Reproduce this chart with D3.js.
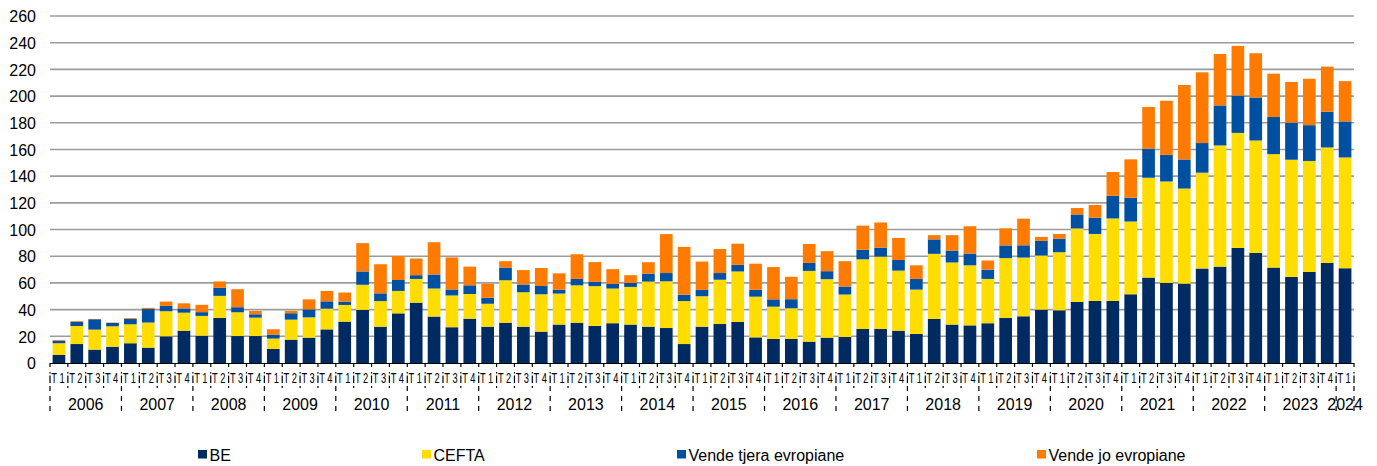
<!DOCTYPE html>
<html><head><meta charset="utf-8">
<script src="https://cdn.jsdelivr.net/npm/d3@7"></script>
<style>body{margin:0;background:#fff;}svg{display:block;font-family:"Liberation Sans",Arial,sans-serif;}</style>
</head><body>
<svg id="c" width="1377" height="466"></svg>
<script>
const years = ["2006","2007","2008","2009","2010","2011","2012","2013","2014","2015","2016","2017","2018","2019","2020","2021","2022","2023","2024"];
const quarterLabels = ["T 1","T 2","T 3","T 4"];
const seriesNames = ["BE","CEFTA","Vende tjera evropiane","Vende jo evropiane"];
const yTicks = [0,20,40,60,80,100,120,140,160,180,200,220,240,260];
// values per quarter, 2006 T1 .. 2024 T1
const BE = [6,14.2,10,12.2, 14.8,11.5,20,24.2, 20.5,33.8,20.2,20.2, 10.5,17.5,19,25.2, 31,39.8,27.2,37.2, 45.2,34.8,26.8,33.2,
  27.2,30.2,27.2,23.5, 28.8,30.2,27.8,29.8, 28.8,27.2,26.2,14.2, 27.2,29.2,30.8,19.2, 18,18,16,19,
  19.5,25.5,25.5,24.2, 21.8,33,28.8,28.2, 29.8,33.8,35,40, 39.5,45.8,46.5,46.5, 51.5,64,60,59.5,
  70.8,72.2,86.2,82.5, 71.5,64.5,68.2,75, 71];
const CEFTA = [8.8,13.5,15,15.3, 14.2,18.8,18.8,13.5, 14.8,16.5,17.8,13.8, 7.8,15,15.2,15.5, 12.5,18.8,19.2,16.8, 17.8,21,23.8,18.5,
  17.2,31.8,25.8,28, 23.2,28,29.8,26, 28.2,33.8,35,32.2, 22.8,33.2,37.8,30.5, 24.2,23,53,43.8,
  31.8,52.2,54.2,45, 33.2,48.8,46.5,45, 33.2,44.8,44,40.5, 43.5,55,50.2,61.8, 54.5,74.8,76,71.2,
  71.8,90.8,86.2,84.2, 85,87.8,83.2,86.5, 83];
const EUR = [2,3.2,7.8,2.5, 4.2,10.2,4,3.2, 2.8,6,3.8,2.5, 3,4.8,6,5.5, 2.5,10,5.8,8.2, 2.8,10.5,4.5,6.5,
  4.5,9.5,5.8,6.2, 3,4.8,3.2,3.5, 3,6,6.2,4.8, 4.8,5,5,5.2, 5.5,6.8,6,6,
  6,7.2,6.8,8, 8,10.8,9,8.8, 7,9.5,9.2,11, 10.2,10.5,12.2,17, 17.8,21.8,20,21.8,
  22.2,30,28,32.2, 27.8,27.8,26.8,26.8, 27];
const NONEUR = [0.5,0.5,0.2,0.3, 0.5,0.8,3.2,3.8, 5.5,4.8,13.5,2.5, 4,1.8,7.5,7.8, 6.8,21.2,21.8,18, 12.5,24.2,24,14,
  10.5,4.8,10.8,13.5, 12.2,18.5,14.8,11, 5.8,8.5,29.2,35.8, 21.2,18,15.8,19.5, 24.2,16.8,14.2,15,
  19,18,18.8,16.5, 10.2,3.2,11.5,20.5, 6.8,12.8,20,3, 3.5,4.8,9.5,17.8, 28.8,31.2,40.5,55.8,
  53,38.5,37.2,33.2, 32.5,30.5,34.8,33.8, 30.2];
const colors = ["#002A62","#FFDD00","#0050A2","#FF7B00"];

const categories = [];
years.forEach((y, yi) => quarterLabels.forEach((q, qi) => {
  if (yi < years.length - 1 || qi === 0) categories.push({year: y, q: q, key: y + q});
}));
const rows = categories.map((c, i) => ({key: c.key, BE: BE[i], CEFTA: CEFTA[i], EUR: EUR[i], NONEUR: NONEUR[i]}));
const keys = ["BE","CEFTA","EUR","NONEUR"];

const svg = d3.select("#c");
const L = 50, R = 1354, T = 16, B = 363;
const x = d3.scaleBand().domain(categories.map(c => c.key)).range([L, R]).paddingInner(0.29).paddingOuter(0.145);
const y = d3.scaleLinear().domain([0, 260]).range([B, T]);

// gridlines
svg.append("g").selectAll("line").data(yTicks.slice(1)).join("line")
  .attr("x1", L).attr("x2", R).attr("y1", d => y(d)).attr("y2", d => y(d))
  .attr("stroke", "#9c9c9c").attr("stroke-width", 1.6);

// y axis labels
const yAxis = d3.axisLeft(y).tickValues(yTicks).tickSize(0).tickPadding(0);
const ya = svg.append("g").attr("transform", `translate(${L - 14},0)`).call(yAxis);
ya.select(".domain").remove();
ya.selectAll("text").attr("font-size", 16).attr("fill", "#000").attr("font-family", "Liberation Sans, Arial, sans-serif").attr("dy", "0.36em");

// bars
const stack = d3.stack().keys(keys)(rows);
svg.append("g").selectAll("g").data(stack).join("g").attr("fill", (d, i) => colors[i])
  .selectAll("rect").data(d => d).join("rect")
  .attr("x", d => x(d.data.key)).attr("width", x.bandwidth())
  .attr("y", d => y(d[1])).attr("height", d => Math.max(0, y(d[0]) - y(d[1])));

// x axis
const step = x.step();
const boundaryX = i => L + (x.paddingOuter() - x.paddingInner() / 2) * step + i * step;
const ax = svg.append("g");
ax.append("line").attr("x1", L).attr("x2", R).attr("y1", B + 0.5).attr("y2", B + 0.5).attr("stroke", "#000").attr("stroke-width", 1.2);
d3.range(categories.length + 1).forEach(i => {
  const bx = i === 0 ? L : (i === categories.length ? R : boundaryX(i));
  const isYear = i % 4 === 0 || i === categories.length;
  ax.append("line").attr("x1", bx).attr("x2", bx).attr("y1", B).attr("y2", isYear ? 414 : 388)
    .attr("stroke", "#000").attr("stroke-width", 1.2)
    .attr("stroke-dasharray", isYear ? "4,5,1.5,2,7.5,3,5,5,5,5,5,5" : "4,5,1.5,2,7.5,3,2,20");
});
// quarter labels (horizontally condensed, as in the reference)
const xAxis = d3.axisBottom(x).tickSize(0).tickPadding(0).tickFormat(k => categories.find(c => c.key === k).q);
const xa = svg.append("g").attr("transform", `translate(0,383)`).call(xAxis);
xa.select(".domain").remove();
xa.selectAll("text").attr("font-size", 15).attr("fill", "#000").attr("font-family", "Liberation Sans, Arial, sans-serif")
  .attr("dy", 0).attr("x", -1.6).attr("y", 0).attr("transform", "scale(0.62,1)");
// year labels
svg.append("g").selectAll("text").data(years).join("text")
  .attr("x", (d, i) => {
    const a = i === 0 ? L : boundaryX(i * 4);
    const b = i === years.length - 1 ? R : boundaryX(i * 4 + 4);
    return (a + b) / 2;
  })
  .attr("y", 409.5).attr("text-anchor", "middle").attr("font-size", 16).attr("fill", "#000")
  .text(d => d);

// legend
const legendX = [198, 422, 677, 1037];
const lg = svg.append("g").selectAll("g").data(seriesNames).join("g")
  .attr("transform", (d, i) => `translate(${legendX[i]},450)`);
lg.append("rect").attr("width", 9).attr("height", 8.5).attr("fill", (d, i) => colors[i]);
lg.append("text").attr("x", 11.5).attr("y", 10.5).attr("font-size", 16).attr("fill", "#000").text(d => d);
</script>
</body></html>
